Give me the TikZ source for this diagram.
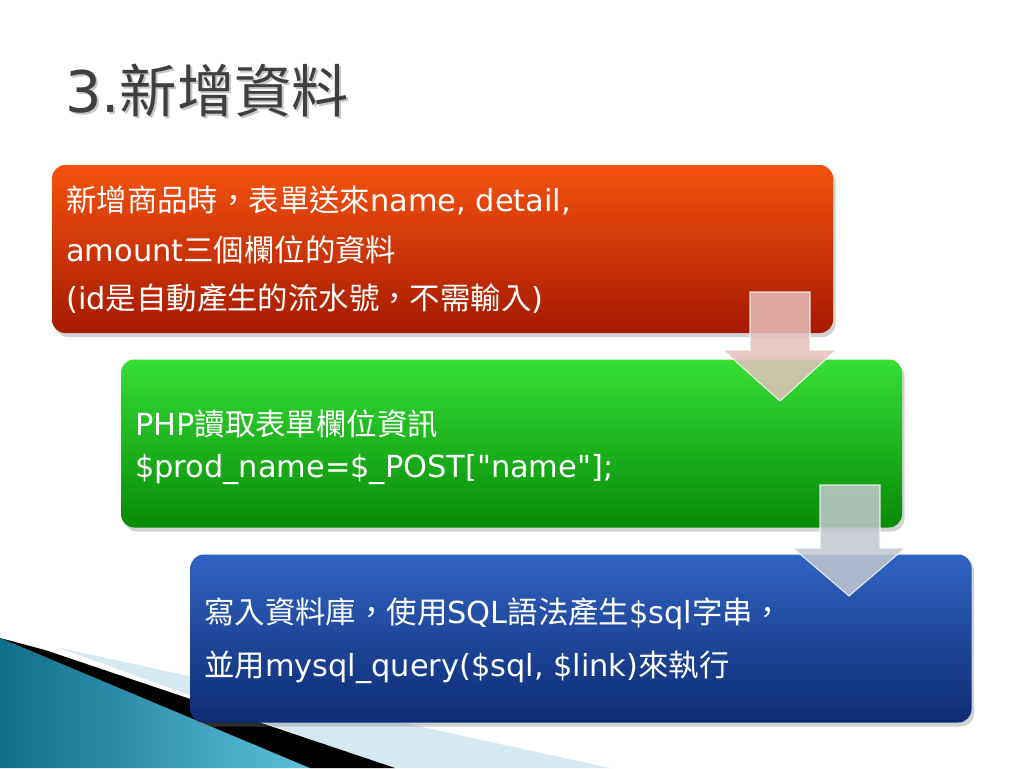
\documentclass[tikz,border=0pt]{standalone}
\usepackage{fontspec}
\newfontfamily\cjkfont{Noto Sans CJK TC}
\newfontfamily\latfont{DejaVu Sans}
\newcommand\lat[1]{{\latfont #1}}
\usetikzlibrary{shadows}
\definecolor{titlegray}{HTML}{3F3F3F}
\definecolor{redtop}{HTML}{F5520E}
\definecolor{redbot}{HTML}{A51A02}
\definecolor{greentop}{HTML}{36DE36}
\definecolor{greenbot}{HTML}{078A07}
\definecolor{bluetop}{HTML}{3064C2}
\definecolor{bluebot}{HTML}{0C2B73}
\definecolor{arrowpink}{HTML}{E4C0BC}
\definecolor{arrowgray}{HTML}{C4C8D0}
\definecolor{tealdark}{HTML}{0E6E8C}
\definecolor{teallight}{HTML}{5CC0DC}
\definecolor{paleblue}{HTML}{D6E8F0}
\tikzset{
  stepbox/.style={rounded corners=10pt, minimum width={781*0.75pt}, minimum height={168*0.75pt},
    inner sep=0pt, drop shadow={shadow xshift=2pt, shadow yshift=-3pt, opacity=0.35}},
  boxtext/.style={anchor=base west, text=white, font=\cjkfont\fontsize{22.8pt}{27pt}\selectfont, inner sep=0pt},
  titletext/.style={anchor=base west, font=\cjkfont\fontsize{43pt}{50pt}\selectfont, inner sep=0pt},
  bigarrow/.style={draw=white, line width=0.8pt, fill opacity=0.85, draw opacity=0.8}
}
\begin{document}
\begin{tikzpicture}[x=0.75pt,y=-0.75pt]
\useasboundingbox (0,0) rectangle (1024,768);
\fill[white] (0,0) rectangle (1024,768);
% bottom-left decoration
\fill[paleblue] (60,648) -- (610,768) -- (390,768) -- cycle;
\shade[left color=tealdark, right color=teallight] (0,638) -- (310,768) -- (0,768) -- cycle;
\fill[black] (45,650) -- (395,768) -- (310,768) -- (0,638) -- cycle;
% title
\node[titletext, text=black!22] (titleshadow) at (67,114) {\lat{3.}新增資料};
\node[titletext, text=titlegray] (title) at (65,112) {\lat{3.}新增資料};
% boxes
\node[stepbox, top color=redtop, bottom color=redbot] (red) at (442.5,249) {};
\node[stepbox, top color=greentop, bottom color=greenbot] (green) at (511.5,443.5) {};
\node[stepbox, top color=bluetop, bottom color=bluebot] (blue) at (581,638.5) {};
% texts
\node[boxtext] (r1) at (66,211) {新增商品時，表單送來\lat{name, detail,}};
\node[boxtext] (r2) at (66,261) {\lat{amount}三個欄位的資料};
\node[boxtext] (r3) at (66,309) {\lat{(id}是自動產生的流水號，不需輸入\lat{)}};
\node[boxtext] (g1) at (135,435) {\lat{PHP}讀取表單欄位資訊};
\node[boxtext] (g2) at (135,477) {\lat{\$prod\_name=\$\_POST["name"];}};
\node[boxtext] (b1) at (204,623) {寫入資料庫，使用\lat{SQL}語法產生\lat{\$sql}字串，};
\node[boxtext] (b2) at (204,676) {並用\lat{mysql\_query(\$sql, \$link)}來執行};
% arrows
\path[bigarrow, fill=arrowpink] (750,292) -- (810,292) -- (810,350) -- (836,350) -- (780,401) -- (723,350) -- (750,350) -- cycle;
\path[bigarrow, fill=arrowgray] (820,485) -- (880,485) -- (880,548) -- (905,548) -- (849,596) -- (793,548) -- (820,548) -- cycle;
\end{tikzpicture}
\end{document}
